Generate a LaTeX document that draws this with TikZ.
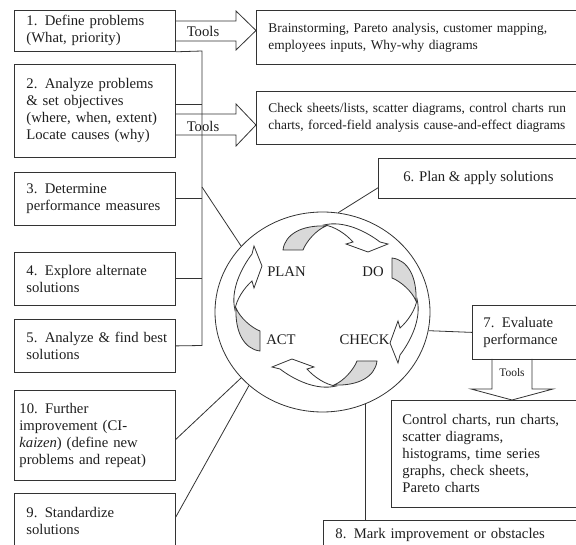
\documentclass[tikz,border=0pt]{standalone}
\usepackage{fontspec}
\setmainfont{Liberation Serif}
\usetikzlibrary{calc,shapes.geometric}
\definecolor{lc}{HTML}{333333}
\definecolor{tc}{HTML}{1E1E1E}
\definecolor{agray}{HTML}{D9D9D9}
\newcommand{\pdcaarrow}{%
  \filldraw[fill=agray] (-39,-62) -- (-19,-62) .. controls (-16,-70) and (-6,-82) .. (4,-86)
     .. controls (-20,-87) and (-37,-78) .. (-39,-62) -- cycle;
  \filldraw[fill=white] (2,-87) .. controls (22,-92) and (45,-80) .. (58,-70) -- (66,-68) -- (46,-60)
     -- (24,-68) -- (31,-70) .. controls (24,-78) and (12,-86) .. (2,-87) -- cycle;
}
\begin{document}
\begin{tikzpicture}[x=1pt,y=-1pt,line width=0.8pt,draw=lc,
  every node/.style={text=tc,font=\fontsize{14.7}{17}\selectfont},
  box/.style={draw=lc,rectangle,anchor=north west,inner xsep=12pt,inner ysep=0pt,align=left},
  toolbox/.style={box,font=\fontsize{13.4}{17}\selectfont},
  blockarrow/.style={draw=lc,line join=miter},
  conn/.style={draw=lc}]
\useasboundingbox (0,0) rectangle (576,545);
\clip (0,0) rectangle (576,545);

% left column boxes
\node[box,minimum height=41pt,text width=137pt] (b1) at (14,10) {1. Define problems\\(What, priority)};
\node[box,minimum height=93pt,text width=137pt] (b2) at (14,64) {2. Analyze problems\\\& set objectives\\(where, when, extent)\\Locate causes (why)};
\node[box,minimum height=53pt,text width=137pt] (b3) at (14,172) {3. Determine\\\mbox{performance measures}};
\node[box,minimum height=53pt,text width=137pt] (b4) at (14,252) {4. Explore alternate\\solutions};
\node[box,minimum height=53pt,text width=137pt] (b5) at (14,319) {\mbox{5. Analyze \& find best}\\solutions};
\node[box,inner xsep=5pt,minimum height=90pt,text width=151pt] (b10) at (14,390) {10. Further\\improvement (CI-\\\textit{kaizen}) (define new\\problems and repeat)};
\node[box,minimum height=56pt,text width=137pt] (b9) at (14,493) {9. Standardize\\solutions};

% right boxes
\node[toolbox,minimum height=54pt,text width=320pt] (t1) at (256,10) {Brainstorming, Pareto analysis, customer mapping,\\employees inputs, Why-why diagrams};
\node[toolbox,minimum height=53pt,text width=320pt] (t2) at (256,91) {Check sheets/lists, scatter diagrams, control charts run\\charts, forced-field analysis cause-and-effect diagrams};
\node[box,inner xsep=0pt,minimum width=200pt,minimum height=40pt,align=center] (b6) at (378,158) {6. Plan \& apply solutions};
\node[box,inner xsep=11pt,minimum height=54pt,text width=100pt] (b7) at (472,305) {7. Evaluate\\performance};
\node[box,inner xsep=11pt,minimum height=107pt,text width=180pt] (t3) at (391,400) {Control charts, run charts,\\scatter diagrams,\\histograms, time series\\graphs, check sheets,\\Pareto charts};
\node[box,minimum height=30pt,text width=260pt] (b8) at (323,520) {8. Mark improvement or obstacles};

% tools block arrows
\draw[blockarrow] (175,21) -- (236,21) -- (236,11) -- (256,30.5) -- (236,50) -- (236,41) -- (175,41);
\node (tl1) at (203,31) {Tools};
\draw[blockarrow] (175,114) -- (236,114) -- (236,104) -- (256,125) -- (236,146) -- (236,135) -- (175,135);
\node (tl2) at (203,126) {Tools};
\draw[blockarrow] (492,359) -- (492,389) -- (471,389) -- (512,400) -- (553,389) -- (532,389) -- (532,359);
\node[font=\fontsize{11.5}{14}\selectfont] (tl3) at (512,373) {Tools};

% cycle
\node[draw=lc,ellipse,minimum width=215pt,minimum height=200pt,inner sep=0pt] (cyc) at (322.5,312) {};
\begin{scope}[shift={(322,312)}] \pdcaarrow \end{scope}
\begin{scope}[shift={(330,297)},rotate=-90] \pdcaarrow \end{scope}
\begin{scope}[shift={(338,299)},rotate=180] \pdcaarrow \end{scope}
\begin{scope}[shift={(322,312)},rotate=90] \pdcaarrow \end{scope}
\node (plan) at (286.5,272) {PLAN};
\node (do) at (373,272) {DO};
\node (act) at (281,340) {ACT};
\node (check) at (364.5,340) {CHECK};

% bus on the left
\coordinate (busT) at (202,51);
\coordinate (busB) at (202,345.5);
\coordinate (busD) at (202,187);
\path ($(b2.north east)+(0,40)$) coordinate (b2c);
\draw[conn] (b1.south east) -- (busT) -- (busB) -- (b5.east);
\draw[conn] (b2c) -- (b2c -| busT);
\draw[conn] (b3.east) -- (b3.east -| busT);
\draw[conn] (b4.east) -- (b4.east -| busT);
\draw[conn] (busD) -- (cyc.141.4);

% other connectors
\draw[conn] ($(b6.south west)+(0,-11)$) -- (cyc.81.7);
\draw[conn] (cyc.-10.7) -- (b7.west);
\path (cyc.-65.7) coordinate (c8);
\draw[conn] (c8) -- (c8 |- b8.north);
\draw[conn] ($(b10.east)+(0,4)$) -- (cyc.-141.4);
\draw[conn] ($(b9.north east)+(0,24)$) -- (cyc.-135.2);
\end{tikzpicture}
\end{document}
